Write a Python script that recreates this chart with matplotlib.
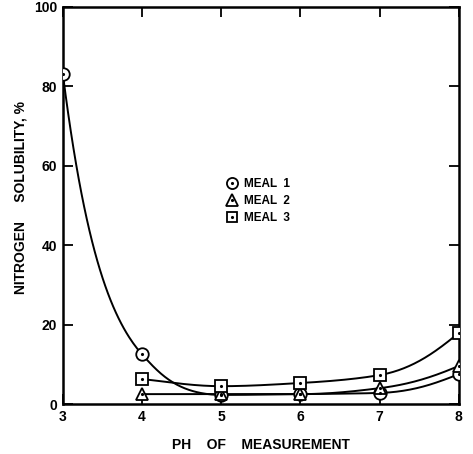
import numpy as np
from matplotlib import pyplot as plt
from matplotlib.lines import Line2D

plt.rcParams['font.family'] = ['Liberation Sans', 'DejaVu Sans']
plt.rcParams['font.weight'] = 'bold'

# pH 与氮溶解度数据
ph1 = [3, 4, 5, 6, 7, 8]
meal1 = [83, 12.5, 2.3, 2.5, 2.8, 7.5]
ph23 = [4, 5, 6, 7, 8]
meal2 = [2.5, 2.5, 2.5, 4.0, 9.6]
meal3 = [6.3, 4.5, 5.3, 7.3, 17.9]
labels = ['MEAL  1', 'MEAL  2', 'MEAL  3']
markers = ['o', '^', 's']


def pchip(x, y, xs):
    # 单调三次插值，用于画平滑曲线
    x = np.asarray(x, float)
    y = np.asarray(y, float)
    h = np.diff(x)
    d = np.diff(y) / h
    m = np.zeros_like(y)
    for k in range(1, len(x) - 1):
        if d[k - 1] * d[k] > 0:
            w1 = 2 * h[k] + h[k - 1]
            w2 = h[k] + 2 * h[k - 1]
            m[k] = (w1 + w2) / (w1 / d[k - 1] + w2 / d[k])
    m[0] = d[0]
    m[-1] = d[-1]
    out = np.empty_like(xs)
    for i, xv in enumerate(xs):
        k = min(np.searchsorted(x, xv, side='right') - 1, len(x) - 2)
        t = (xv - x[k]) / h[k]
        h00 = 2 * t**3 - 3 * t**2 + 1
        h10 = t**3 - 2 * t**2 + t
        h01 = -2 * t**3 + 3 * t**2
        h11 = t**3 - t**2
        out[i] = h00 * y[k] + h10 * h[k] * m[k] + h01 * y[k + 1] + h11 * h[k] * m[k + 1]
    return out


def smooth(x, y):
    xs = np.linspace(x[0], x[-1], 300)
    # 在对数空间插值，得到指数型的衰减曲线
    ys = np.exp(pchip(x, np.log(y), xs))
    return xs, ys


fig = plt.figure(figsize=(4.73, 4.54), dpi=100)
ax = fig.add_axes([0.133, 0.110, 0.837, 0.875])

mstyle = dict(linestyle='none', markerfacecolor='white', markeredgecolor='black',
              markeredgewidth=1.3)
dstyle = dict(linestyle='none', marker='.', markersize=2.5, color='black')
handles = []
for x, y, mk in zip([ph1, ph23, ph23], [meal1, meal2, meal3], markers):
    ms = 8 if mk == 's' else 9
    xs, ys = smooth(x, y)
    ax.plot(xs, ys, color='black', lw=1.4, zorder=2)
    ax.plot(x, y, marker=mk, markersize=ms, zorder=3, **mstyle)
    ax.plot(x, y, zorder=4, **dstyle)
    handles.append((Line2D([], [], marker=mk, markersize=ms - 1, **mstyle),
                    Line2D([], [], **dstyle)))

ax.legend(handles, labels, loc='upper left', bbox_to_anchor=(0.385, 0.595),
          frameon=False, handletextpad=0.5, labelspacing=0.4, handlelength=1.0,
          prop={'size': 8.5, 'weight': 'bold'})

ax.set_xlim(3, 8)
ax.set_ylim(0, 100)
ax.set_xticks([3, 4, 5, 6, 7, 8])
ax.set_yticks([0, 20, 40, 60, 80, 100])
ax.tick_params(direction='in', length=7, width=1.3, top=True, right=True,
               labelsize=10, pad=4)
for s in ax.spines.values():
    s.set_linewidth(1.8)

ax.set_xlabel('PH    OF    MEASUREMENT', fontsize=10, fontweight='bold', labelpad=10)
ax.set_ylabel('NITROGEN     SOLUBILITY, %', fontsize=10, fontweight='bold')
ax.yaxis.set_label_coords(-0.09, 0.52)

fig.savefig('out.png', dpi=100)
